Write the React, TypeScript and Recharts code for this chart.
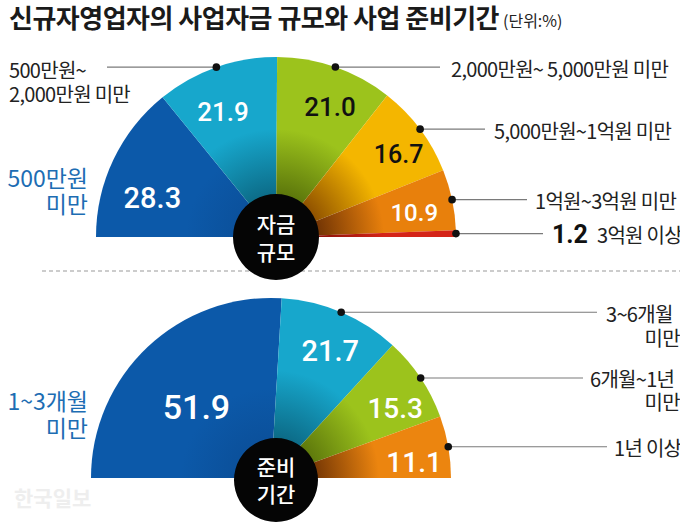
import React from 'react';
import { PieChart, Pie, Cell } from 'recharts';

const W = 680;
const H = 525;
const KR = '"Noto Sans CJK KR", "Noto Sans", sans-serif';
const NUM = 'Roboto, "Liberation Sans", Arial, sans-serif';

// ---------------- data ----------------
const fundCategories = [
  '500만원 미만',
  '500만원~2,000만원 미만',
  '2,000만원~ 5,000만원 미만',
  '5,000만원~1억원 미만',
  '1억원~3억원 미만',
  '3억원 이상',
];
const fundValues = [28.3, 21.9, 21.0, 16.7, 10.9, 1.2];
const fundLabelLines = [
  ['500만원', '미만'],
  ['500만원~', '2,000만원 미만'],
  ['2,000만원~ 5,000만원 미만'],
  ['5,000만원~1억원 미만'],
  ['1억원~3억원 미만'],
  ['3억원 이상'],
];

const periodCategories = ['1~3개월 미만', '3~6개월 미만', '6개월~1년 미만', '1년 이상'];
const periodValues = [51.9, 21.7, 15.3, 11.1];
const periodLabelLines = [['1~3개월', '미만'], ['3~6개월', '미만'], ['6개월~1년', '미만'], ['1년 이상']];

const titleText = '신규자영업자의 사업자금 규모와 사업 준비기간';
const unitText = '(단위:%)';
const fundCenterLines = ['자금', '규모'];
const periodCenterLines = ['준비', '기간'];
const watermarkText = '한국일보';

const fundData = fundCategories.map((name, i) => ({ name, value: fundValues[i] }));
const periodData = periodCategories.map((name, i) => ({ name, value: periodValues[i] }));
const holeData = [{ name: 'hole', value: 1 }];

// ---------------- layout / style ----------------
const TOP = { cx: 276, cy: 237, r: 180, hole: 43, hcx: 276, hcy: 237 };
const BOT = { cx: 271, cy: 478, r: 180, hole: 42, hcx: 276, hcy: 480 };

type SliceStyle = { fill: string; dark: string; text: string; size: number; rf: number; da: number };
const fundStyle: SliceStyle[] = [
  { fill: '#0c59a9', dark: '#0b519c', text: '#ffffff', size: 29, rf: 0.72, da: 8 },
  { fill: '#17a7cc', dark: '#0c6a86', text: '#ffffff', size: 26, rf: 0.755, da: 3.6 },
  { fill: '#9cc31c', dark: '#5a740b', text: '#111111', size: 26, rf: 0.78, da: -3.4 },
  { fill: '#f4b600', dark: '#8c4e00', text: '#111111', size: 25, rf: 0.82, da: -3 },
  { fill: '#e8800c', dark: '#6e3204', text: '#ffffff', size: 24, rf: 0.78, da: -2 },
  { fill: '#d42418', dark: '#8a1208', text: '', size: 0, rf: 0, da: 0 },
];
const periodStyle: SliceStyle[] = [
  { fill: '#0c59a9', dark: '#0b519c', text: '#ffffff', size: 34, rf: 0.57, da: 3.3 },
  { fill: '#17a7cc', dark: '#0c6a86', text: '#ffffff', size: 29, rf: 0.78, da: -2 },
  { fill: '#9cc31c', dark: '#5a740b', text: '#ffffff', size: 28, rf: 0.79, da: -4.6 },
  { fill: '#ec850f', dark: '#6e3204', text: '#ffffff', size: 28, rf: 0.8, da: -3.7 },
];

type Ext =
  | { kind: 'side'; x: number; ys: number[] }
  | { kind: 'left'; end: number; tx: number; ys: number[] }
  | { kind: 'right'; end: number; tx: number; second?: number; vx?: number };

const fundExt: Ext[] = [
  { kind: 'side', x: 88, ys: [-60, -34] },
  { kind: 'left', end: 107, tx: 9, ys: [2, 26] },
  { kind: 'right', end: 440, tx: 451 },
  { kind: 'right', end: 485, tx: 494 },
  { kind: 'right', end: 527, tx: 535 },
  { kind: 'right', end: 543, tx: 597, vx: 552 },
];
const periodExt: Ext[] = [
  { kind: 'side', x: 88, ys: [-78, -51] },
  { kind: 'right', end: 597, tx: 606, second: 25 },
  { kind: 'right', end: 583, tx: 590, second: 24 },
  { kind: 'right', end: 607, tx: 614 },
];

const SIDE_BLUE = '#1d6db3';
const EXT_FONT = 20;
const EXT_SPACING = -0.7;
const RIGHT_EDGE = 680;
const RAD = Math.PI / 180;

function makeLabel(prefix: string, styles: SliceStyle[], ext: Ext[], lines: string[][]) {
  return (props: any) => {
    const { cx, cy, midAngle, outerRadius, index, value } = props;
    const st = styles[index];
    const ex = ext[index];
    const els: React.ReactNode[] = [];
    if (st.size) {
      const a = (midAngle + st.da) * RAD;
      const r = outerRadius * st.rf;
      els.push(
        <text
          key="v"
          x={cx + r * Math.cos(a)}
          y={cy - r * Math.sin(a)}
          textAnchor="middle"
          dominantBaseline="central"
          fill={st.text}
          fontSize={st.size}
          fontFamily={NUM}
          fontWeight={500}
        >
          {Number(value).toFixed(1)}
        </text>
      );
    }
    const da = midAngle * RAD;
    const px = cx + outerRadius * Math.cos(da);
    const py = cy - outerRadius * Math.sin(da);
    const lab = lines[index];
    if (ex.kind === 'side') {
      lab.forEach((t, i) =>
        els.push(
          <text key={'s' + i} x={ex.x} y={cy + ex.ys[i]} textAnchor="end" dominantBaseline="central"
            fill={SIDE_BLUE} fontSize={23} fontFamily={KR}>
            {t}
          </text>
        )
      );
    } else if (ex.kind === 'left') {
      els.push(<line key="l" x1={px} y1={py} x2={ex.end} y2={py} stroke="#7a7a7a" strokeWidth={1.2} />);
      els.push(<circle key="d" cx={px} cy={py} r={3.8} fill="#111" />);
      lab.forEach((t, i) =>
        els.push(
          <text key={'t' + i} x={ex.tx} y={py + ex.ys[i]} textAnchor="start" dominantBaseline="central"
            fill="#222" fontSize={EXT_FONT} fontFamily={KR} letterSpacing={EXT_SPACING}>
            {t}
          </text>
        )
      );
    } else {
      els.push(<line key="l" x1={px} y1={py} x2={ex.end} y2={py} stroke="#7a7a7a" strokeWidth={1.2} />);
      els.push(<circle key="d" cx={px} cy={py} r={3.8} fill="#111" />);
      if (ex.vx !== undefined) {
        els.push(
          <text key="vv" x={ex.vx} y={py + 1} textAnchor="start" dominantBaseline="central"
            fill="#111" fontSize={25} fontFamily={NUM} fontWeight={700}>
            {Number(value).toFixed(1)}
          </text>
        );
      }
      els.push(
        <text key="t0" x={ex.tx} y={py + 1} textAnchor="start" dominantBaseline="central"
          fill="#222" fontSize={EXT_FONT} fontFamily={KR} letterSpacing={EXT_SPACING}>
          {lab[0]}
        </text>
      );
      if (lab[1]) {
        els.push(
          <text key="t1" x={RIGHT_EDGE} y={py + (ex.second || 24)} textAnchor="end" dominantBaseline="central"
            fill="#222" fontSize={EXT_FONT} fontFamily={KR} letterSpacing={EXT_SPACING}>
            {lab[1]}
          </text>
        );
      }
    }
    return <g key={prefix + index}>{els}</g>;
  };
}

function makeCenterLabel(lines: string[], offs: number[]) {
  return (props: any) => {
    const { cx, cy } = props;
    return (
      <g>
        {lines.map((t, i) => (
          <text key={i} x={cx} y={cy + offs[i]} textAnchor="middle" dominantBaseline="central"
            fill="#ffffff" fontSize={21} fontFamily={KR} fontWeight={500}>
            {t}
          </text>
        ))}
      </g>
    );
  };
}

function Gradients({ prefix, styles, c }: { prefix: string; styles: SliceStyle[]; c: typeof TOP }) {
  return (
    <>
      {styles.map((s, i) => (
        <radialGradient key={i} id={prefix + i} gradientUnits="userSpaceOnUse" cx={c.cx} cy={c.cy} r={c.r}>
          <stop offset="0" stopColor={s.dark} />
          <stop offset="0.22" stopColor={s.dark} />
          <stop offset={i === 0 ? '0.5' : '0.6'} stopColor={s.fill} />
          <stop offset="1" stopColor={s.fill} />
        </radialGradient>
      ))}
    </>
  );
}

export default function App() {
  return (
    <div style={{ position: 'absolute', left: 0, top: 0, width: W, height: H, background: '#ffffff', overflow: 'hidden' }}>
      <svg width={W} height={H} style={{ position: 'absolute', left: 0, top: 0 }}>
        <defs>
          <Gradients prefix="gt" styles={fundStyle} c={TOP} />
          <Gradients prefix="gb" styles={periodStyle} c={BOT} />
        </defs>
        <text x={9} y={28} fontSize={26} fontWeight={700} fontFamily={KR} fill="#1a1a1a" letterSpacing={-0.5}>
          {titleText}
        </text>
        <text x={503} y={27} fontSize={16} fontFamily={KR} fill="#222">
          {unitText}
        </text>
        <line x1={42} y1={271} x2={680} y2={271} stroke="#9a9a9a" strokeWidth={1.2} strokeDasharray="4 3" />
        <text x={14} y={506} fontSize={21} fontWeight={700} fontFamily={KR} fill="#eeeeee">
          {watermarkText}
        </text>
      </svg>
      <div style={{ position: 'absolute', left: 0, top: 0 }}>
        <PieChart width={W} height={H} margin={{ top: 0, right: 0, bottom: 0, left: 0 }}>
          <Pie
            data={fundData}
            dataKey="value"
            nameKey="name"
            cx={TOP.cx}
            cy={TOP.cy}
            innerRadius={0}
            outerRadius={TOP.r}
            startAngle={180}
            endAngle={0}
            stroke="none"
            isAnimationActive={false}
            labelLine={false}
            label={makeLabel('f', fundStyle, fundExt, fundLabelLines)}
          >
            {fundData.map((d, i) => (
              <Cell key={d.name} fill={`url(#gt${i})`} stroke="none" />
            ))}
          </Pie>
          <Pie
            data={holeData}
            dataKey="value"
            cx={TOP.hcx}
            cy={TOP.hcy}
            innerRadius={0}
            outerRadius={TOP.hole}
            startAngle={90}
            endAngle={-270}
            fill="#050505"
            stroke="none"
            isAnimationActive={false}
            labelLine={false}
            label={makeCenterLabel(fundCenterLines, [-14, 14])}
          />
          <Pie
            data={periodData}
            dataKey="value"
            nameKey="name"
            cx={BOT.cx}
            cy={BOT.cy}
            innerRadius={0}
            outerRadius={BOT.r}
            startAngle={180}
            endAngle={0}
            stroke="none"
            isAnimationActive={false}
            labelLine={false}
            label={makeLabel('p', periodStyle, periodExt, periodLabelLines)}
          >
            {periodData.map((d, i) => (
              <Cell key={d.name} fill={`url(#gb${i})`} stroke="none" />
            ))}
          </Pie>
          <Pie
            data={holeData}
            dataKey="value"
            cx={BOT.hcx}
            cy={BOT.hcy}
            innerRadius={0}
            outerRadius={BOT.hole}
            startAngle={90}
            endAngle={-270}
            fill="#050505"
            stroke="none"
            isAnimationActive={false}
            labelLine={false}
            label={makeCenterLabel(periodCenterLines, [-14, 13])}
          />
        </PieChart>
      </div>
    </div>
  );
}
